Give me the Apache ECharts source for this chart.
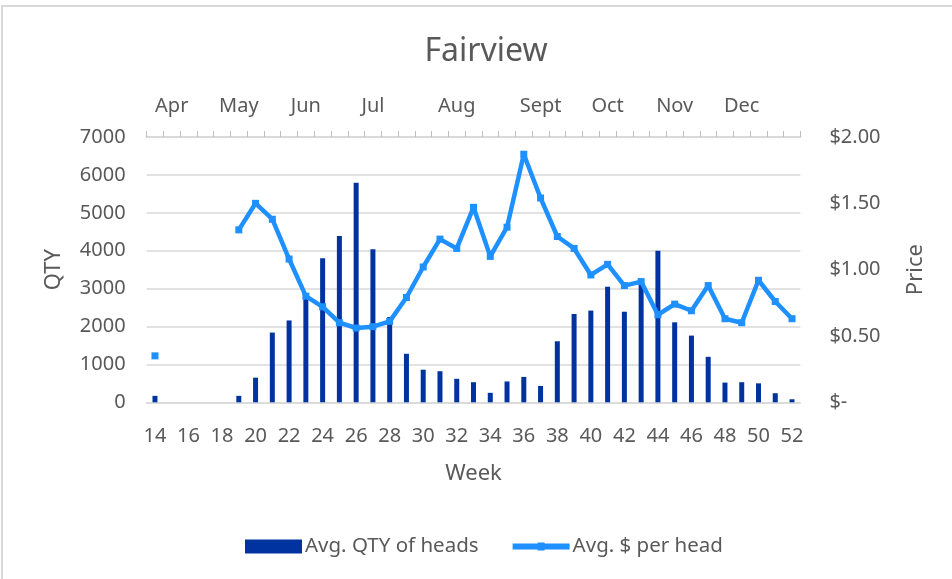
<!DOCTYPE html>
<html>
<head>
<meta charset="utf-8">
<style>
  html, body { margin: 0; padding: 0; background: #fff; overflow: hidden; }
  #frame { position: absolute; left: 1px; top: 5px; width: 980px; height: 600px; border-left: 2px solid #d9d9d9; border-top: 2px solid #d9d9d9; }
  #chart { position: absolute; left: 0; top: 0; width: 952px; height: 579px; }
</style>
<script src="https://cdn.jsdelivr.net/npm/echarts@6/dist/echarts.min.js"></script>
</head>
<body>
<div id="frame"></div>
<div id="chart"></div>
<script>
const weeks = ['14', '15', '16', '17', '18', '19', '20', '21', '22', '23', '24', '25', '26',
  '27', '28', '29', '30', '31', '32', '33', '34', '35', '36', '37', '38', '39', '40',
  '41', '42', '43', '44', '45', '46', '47', '48', '49', '50', '51', '52'];

// month label sits over this week on the top axis
const monthNames = ['Apr', 'May', 'Jun', 'Jul', 'Aug', 'Sept', 'Oct', 'Nov', 'Dec'];
const monthWeeks = ['15', '19', '23', '27', '32', '37', '41', '45', '49'];

const qtyHeads = [170, null, null, null, null, 170, 650, 1840, 2160, 2780, 3800, 4390, 5790,
  4040, 2250, 1280, 860, 820, 620, 530, 250, 550, 670, 430, 1610, 2330, 2420,
  3050, 2390, 3150, 4000, 2110, 1760, 1200, 520, 530, 500, 240, 80];

const pricePerHead = [0.35, null, null, null, null, 1.30, 1.50, 1.38, 1.08, 0.80, 0.72, 0.60, 0.56,
  0.57, 0.61, 0.79, 1.02, 1.23, 1.16, 1.47, 1.10, 1.32, 1.87, 1.54, 1.25, 1.16, 0.96,
  1.04, 0.88, 0.91, 0.66, 0.74, 0.69, 0.88, 0.63, 0.60, 0.92, 0.76, 0.63];

const textColor = '#595959';
const font = '"Noto Sans", "Open Sans", sans-serif';
const lineColor = '#1e90ff';

const chart = echarts.init(document.getElementById('chart'));

chart.setOption({
  animation: false,
  textStyle: { fontFamily: font, color: textColor },
  title: {
    text: 'Fairview',
    left: 481,
    textAlign: 'center',
    top: 31,
    textStyle: { fontSize: 32, fontWeight: 'normal', color: textColor, fontFamily: font }
  },
  grid: {
    left: 146.6,
    right: 151.6,
    top: 137,
    bottom: 176.7
  },
  legend: {
    left: 240,
    top: 531,
    itemGap: 34,
    itemWidth: 57,
    itemHeight: 14,
    symbolKeepAspect: true,
    textStyle: { fontSize: 20.5, color: textColor, fontFamily: font, padding: [0, 0, 0, -2] },
    data: [
      { name: 'Avg. QTY of heads', icon: 'rect' },
      {
        name: 'Avg. $ per head',
        icon: 'path://M0,1H57V7H0Z M25,0H32V8H25Z',
        itemStyle: { color: lineColor }
      }
    ]
  },
  xAxis: [
    {
      type: 'category',
      data: weeks,
      position: 'bottom',
      name: 'Week',
      nameLocation: 'middle',
      nameGap: 60,
      nameTextStyle: { fontSize: 22, color: textColor },
      axisLine: { onZero: false, lineStyle: { color: '#d9d9d9', width: 1.5 } },
      axisTick: { show: false },
      axisLabel: { interval: 1, fontSize: 20, color: textColor, margin: 24 }
    },
    {
      type: 'category',
      data: weeks,
      position: 'top',
      axisLine: { show: true, onZero: false, lineStyle: { color: '#d9d9d9', width: 2 } },
      axisTick: { show: true, interval: 0, inside: false, length: 6, lineStyle: { color: '#bfbfbf', width: 1 } },
      axisLabel: {
        interval: 0,
        fontSize: 20,
        color: textColor,
        margin: 21,
        formatter: function (val) {
          const i = monthWeeks.indexOf(val);
          return i >= 0 ? monthNames[i] : '';
        }
      }
    }
  ],
  yAxis: [
    {
      type: 'value',
      min: 0,
      max: 7000,
      interval: 1000,
      name: 'QTY',
      nameLocation: 'middle',
      nameRotate: 90,
      nameGap: 82,
      nameTextStyle: { fontSize: 22, color: textColor },
      axisLine: { show: false },
      axisTick: { show: false },
      axisLabel: {
        fontSize: 20,
        color: textColor,
        margin: 21,
        formatter: function (v) { return String(v); }
      },
      splitLine: { lineStyle: { color: '#d9d9d9', width: 1.5 } }
    },
    {
      type: 'value',
      min: 0,
      max: 2,
      interval: 0.5,
      name: 'Price',
      nameLocation: 'middle',
      nameRotate: 90,
      nameGap: 104,
      nameTextStyle: { fontSize: 22, color: textColor },
      axisLine: { show: false },
      axisTick: { show: false },
      splitLine: { show: false },
      axisLabel: {
        fontSize: 20,
        color: textColor,
        margin: 29,
        formatter: function (v) {
          return v === 0 ? '$-' : '$' + v.toFixed(2);
        }
      }
    }
  ],
  series: [
    {
      name: 'Avg. QTY of heads',
      type: 'bar',
      xAxisIndex: 0,
      yAxisIndex: 0,
      barWidth: 5,
      itemStyle: { color: '#0033a0' },
      data: qtyHeads
    },
    {
      name: 'Avg. $ per head',
      type: 'line',
      xAxisIndex: 0,
      yAxisIndex: 1,
      symbol: 'rect',
      symbolSize: 7,
      showAllSymbol: true,
      connectNulls: false,
      lineStyle: { color: lineColor, width: 4.5 },
      itemStyle: { color: lineColor },
      data: pricePerHead
    }
  ]
});
</script>
</body>
</html>
